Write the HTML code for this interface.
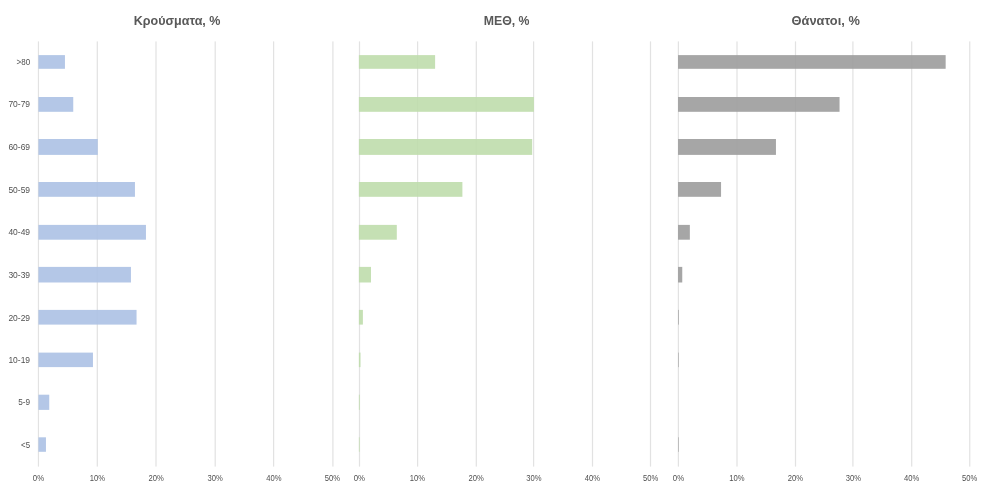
<!DOCTYPE html>
<html lang="el">
<head>
<meta charset="utf-8">
<title>Κρούσματα, ΜΕΘ, Θάνατοι ανά ηλικία</title>
<style>
html,body{margin:0;padding:0;background:#fff;}
body{width:989px;height:492px;overflow:hidden;}
svg{display:block;}
text{font-family:"Liberation Sans",sans-serif;}
.t{font-weight:bold;font-size:12.5px;fill:#595959;}
.a{font-size:8.3px;fill:#505050;}
</style>
</head>
<body>
<svg width="989" height="492" viewBox="0 0 989 492">
<rect width="989" height="492" fill="#ffffff"/>
<g>
<text class="t" x="133.7" y="24.7" textLength="86.8" lengthAdjust="spacingAndGlyphs">Κρούσματα, %</text>
<rect x="37.85" y="41.4" width="1.2" height="425.2" fill="#e2e2e2"/>
<rect x="96.70" y="41.4" width="1.2" height="425.2" fill="#e2e2e2"/>
<rect x="155.40" y="41.4" width="1.2" height="425.2" fill="#e2e2e2"/>
<rect x="214.60" y="41.4" width="1.2" height="425.2" fill="#e2e2e2"/>
<rect x="273.00" y="41.4" width="1.2" height="425.2" fill="#e2e2e2"/>
<rect x="332.30" y="41.4" width="1.2" height="425.2" fill="#e2e2e2"/>
<rect x="38.45" y="55.1" width="26.5" height="13.7" fill="#acc1e4" fill-opacity="0.9"/>
<rect x="38.45" y="97.0" width="34.8" height="14.8" fill="#acc1e4" fill-opacity="0.9"/>
<rect x="38.45" y="139.0" width="59.3" height="15.9" fill="#acc1e4" fill-opacity="0.9"/>
<rect x="38.45" y="182.0" width="96.5" height="14.8" fill="#acc1e4" fill-opacity="0.9"/>
<rect x="38.45" y="224.9" width="107.5" height="14.8" fill="#acc1e4" fill-opacity="0.9"/>
<rect x="38.45" y="266.9" width="92.5" height="15.6" fill="#acc1e4" fill-opacity="0.9"/>
<rect x="38.45" y="309.9" width="98.1" height="14.7" fill="#acc1e4" fill-opacity="0.9"/>
<rect x="38.45" y="352.6" width="54.5" height="14.5" fill="#acc1e4" fill-opacity="0.9"/>
<rect x="38.45" y="394.7" width="10.8" height="15.2" fill="#acc1e4" fill-opacity="0.9"/>
<rect x="38.45" y="437.3" width="7.5" height="14.5" fill="#acc1e4" fill-opacity="0.9"/>
<text class="a" x="32.85" y="481.1" textLength="11.3" lengthAdjust="spacingAndGlyphs">0%</text>
<text class="a" x="89.65" y="481.1" textLength="15.3" lengthAdjust="spacingAndGlyphs">10%</text>
<text class="a" x="148.45" y="481.1" textLength="15.3" lengthAdjust="spacingAndGlyphs">20%</text>
<text class="a" x="207.55" y="481.1" textLength="15.3" lengthAdjust="spacingAndGlyphs">30%</text>
<text class="a" x="266.25" y="481.1" textLength="15.3" lengthAdjust="spacingAndGlyphs">40%</text>
<text class="a" x="324.75" y="481.1" textLength="15.3" lengthAdjust="spacingAndGlyphs">50%</text>
<text class="a" x="16.5" y="65.0" textLength="13.6" lengthAdjust="spacingAndGlyphs">&gt;80</text>
<text class="a" x="8.4" y="107.2" textLength="21.7" lengthAdjust="spacingAndGlyphs">70-79</text>
<text class="a" x="8.4" y="150.1" textLength="21.7" lengthAdjust="spacingAndGlyphs">60-69</text>
<text class="a" x="8.4" y="193.0" textLength="21.7" lengthAdjust="spacingAndGlyphs">50-59</text>
<text class="a" x="8.4" y="235.1" textLength="21.7" lengthAdjust="spacingAndGlyphs">40-49</text>
<text class="a" x="8.4" y="278.0" textLength="21.7" lengthAdjust="spacingAndGlyphs">30-39</text>
<text class="a" x="8.4" y="320.6" textLength="21.7" lengthAdjust="spacingAndGlyphs">20-29</text>
<text class="a" x="8.4" y="362.9" textLength="21.7" lengthAdjust="spacingAndGlyphs">10-19</text>
<text class="a" x="18.2" y="405.3" textLength="11.9" lengthAdjust="spacingAndGlyphs">5-9</text>
<text class="a" x="21.1" y="448.1" textLength="9.0" lengthAdjust="spacingAndGlyphs">&lt;5</text>
</g>
<g>
<text class="t" x="483.7" y="24.7" textLength="45.8" lengthAdjust="spacingAndGlyphs">ΜΕΘ, %</text>
<rect x="358.90" y="41.4" width="1.2" height="425.2" fill="#e2e2e2"/>
<rect x="417.00" y="41.4" width="1.2" height="425.2" fill="#e2e2e2"/>
<rect x="475.70" y="41.4" width="1.2" height="425.2" fill="#e2e2e2"/>
<rect x="533.00" y="41.4" width="1.2" height="425.2" fill="#e2e2e2"/>
<rect x="591.90" y="41.4" width="1.2" height="425.2" fill="#e2e2e2"/>
<rect x="649.90" y="41.4" width="1.2" height="425.2" fill="#e2e2e2"/>
<rect x="358.9" y="55.1" width="76.2" height="13.7" fill="#bfddac" fill-opacity="0.9"/>
<rect x="358.9" y="97.0" width="175.0" height="14.8" fill="#bfddac" fill-opacity="0.9"/>
<rect x="358.9" y="139.0" width="173.3" height="15.9" fill="#bfddac" fill-opacity="0.9"/>
<rect x="358.9" y="182.0" width="103.5" height="14.8" fill="#bfddac" fill-opacity="0.9"/>
<rect x="358.9" y="224.9" width="37.9" height="14.8" fill="#bfddac" fill-opacity="0.9"/>
<rect x="358.9" y="266.9" width="12.1" height="15.6" fill="#bfddac" fill-opacity="0.9"/>
<rect x="358.9" y="309.9" width="4.0" height="14.7" fill="#bfddac" fill-opacity="0.9"/>
<rect x="358.9" y="352.6" width="1.6" height="14.5" fill="#bfddac" fill-opacity="0.9"/>
<rect x="358.9" y="394.7" width="0.8" height="15.2" fill="#bfddac" fill-opacity="0.9"/>
<rect x="358.9" y="437.3" width="0.7" height="14.5" fill="#bfddac" fill-opacity="0.9"/>
<text class="a" x="353.75" y="481.1" textLength="11.3" lengthAdjust="spacingAndGlyphs">0%</text>
<text class="a" x="409.85" y="481.1" textLength="15.3" lengthAdjust="spacingAndGlyphs">10%</text>
<text class="a" x="468.55" y="481.1" textLength="15.3" lengthAdjust="spacingAndGlyphs">20%</text>
<text class="a" x="526.35" y="481.1" textLength="15.3" lengthAdjust="spacingAndGlyphs">30%</text>
<text class="a" x="584.85" y="481.1" textLength="15.3" lengthAdjust="spacingAndGlyphs">40%</text>
<text class="a" x="642.95" y="481.1" textLength="15.3" lengthAdjust="spacingAndGlyphs">50%</text>
</g>
<g>
<text class="t" x="791.6" y="24.7" textLength="68.2" lengthAdjust="spacingAndGlyphs">Θάνατοι, %</text>
<rect x="677.80" y="41.4" width="1.2" height="425.2" fill="#e2e2e2"/>
<rect x="736.40" y="41.4" width="1.2" height="425.2" fill="#e2e2e2"/>
<rect x="794.90" y="41.4" width="1.2" height="425.2" fill="#e2e2e2"/>
<rect x="852.30" y="41.4" width="1.2" height="425.2" fill="#e2e2e2"/>
<rect x="911.10" y="41.4" width="1.2" height="425.2" fill="#e2e2e2"/>
<rect x="969.15" y="41.4" width="1.2" height="425.2" fill="#e2e2e2"/>
<rect x="678.05" y="55.1" width="267.6" height="13.7" fill="#9c9c9c" fill-opacity="0.9"/>
<rect x="678.05" y="97.0" width="161.5" height="14.8" fill="#9c9c9c" fill-opacity="0.9"/>
<rect x="678.05" y="139.0" width="97.9" height="15.9" fill="#9c9c9c" fill-opacity="0.9"/>
<rect x="678.05" y="182.0" width="43.0" height="14.8" fill="#9c9c9c" fill-opacity="0.9"/>
<rect x="678.05" y="224.9" width="11.8" height="14.8" fill="#9c9c9c" fill-opacity="0.9"/>
<rect x="678.05" y="266.9" width="4.2" height="15.6" fill="#9c9c9c" fill-opacity="0.9"/>
<rect x="678.05" y="309.9" width="0.7" height="14.7" fill="#9c9c9c" fill-opacity="0.9"/>
<rect x="678.05" y="352.6" width="0.6" height="14.5" fill="#9c9c9c" fill-opacity="0.9"/>
<rect x="678.05" y="437.3" width="0.6" height="14.5" fill="#9c9c9c" fill-opacity="0.9"/>
<text class="a" x="672.85" y="481.1" textLength="11.3" lengthAdjust="spacingAndGlyphs">0%</text>
<text class="a" x="729.15" y="481.1" textLength="15.3" lengthAdjust="spacingAndGlyphs">10%</text>
<text class="a" x="787.65" y="481.1" textLength="15.3" lengthAdjust="spacingAndGlyphs">20%</text>
<text class="a" x="845.65" y="481.1" textLength="15.3" lengthAdjust="spacingAndGlyphs">30%</text>
<text class="a" x="903.95" y="481.1" textLength="15.3" lengthAdjust="spacingAndGlyphs">40%</text>
<text class="a" x="962.05" y="481.1" textLength="15.3" lengthAdjust="spacingAndGlyphs">50%</text>
</g>
</svg>
</body>
</html>
